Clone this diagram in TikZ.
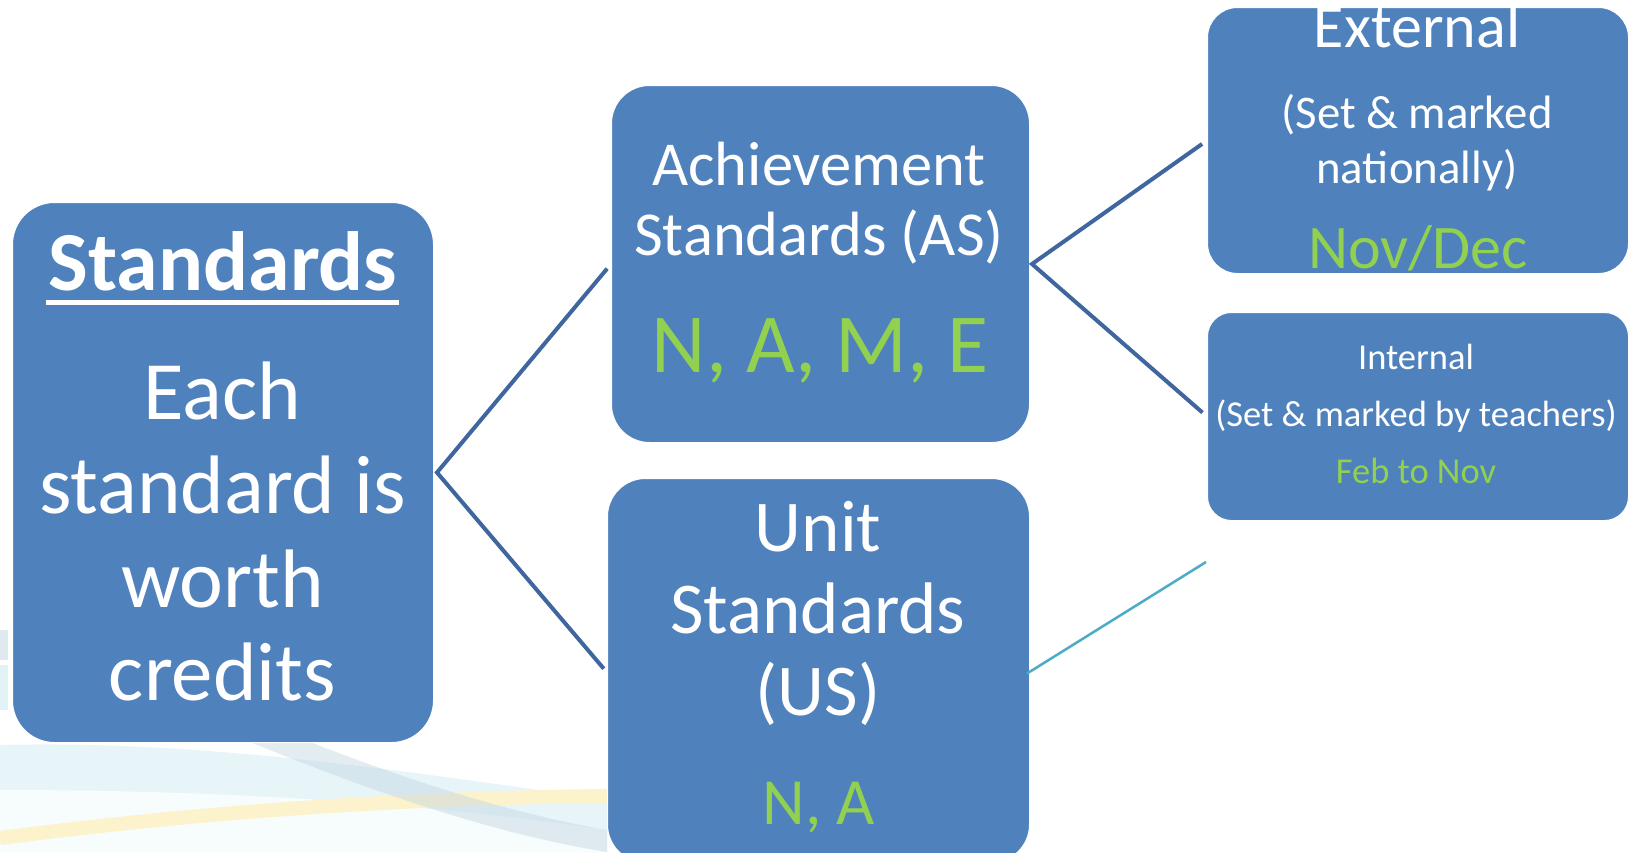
\documentclass[tikz,border=0pt]{standalone}
\usepackage{fontspec}
\setmainfont{Carlito}
\definecolor{boxblue}{HTML}{4F81BD}
\definecolor{linkblue}{HTML}{3F669E}
\definecolor{tealc}{HTML}{4BACC6}
\definecolor{grn}{HTML}{92D050}
\definecolor{swcyan}{HTML}{E2F3F8}
\definecolor{swyellow}{HTML}{FCF3CC}
\definecolor{swgray}{HTML}{C3D5E2}
\begin{document}
\begin{tikzpicture}[x=1pt,y=-1pt,
  box/.style={fill=boxblue, draw=white, line width=1pt, inner sep=0pt, anchor=north west},
  conn/.style={draw=linkblue, line width=4pt, line join=miter},
  txt/.style={text=white, anchor=base, inner sep=0pt},
  gtxt/.style={text=grn, anchor=base, inner sep=0pt},
]
\useasboundingbox (0,0) rectangle (1634,852);
\fill[white] (0,0) rectangle (1634,852);

% faint background swooshes (lower left)
\fill[swcyan, opacity=.8] (0,745) .. controls (200,740) and (400,770) .. (607,800) -- (607,852) -- (0,852) -- cycle;
\fill[white, opacity=.7] (0,790) .. controls (200,790) and (400,800) .. (607,830) -- (607,852) -- (0,852) -- cycle;
\draw[swyellow, line width=14pt] (0,838) .. controls (200,812) and (400,798) .. (607,796);
\fill[swgray, opacity=.45] (250,742) -- (310,742) .. controls (420,785) and (520,815) .. (607,830) -- (607,852) .. controls (500,835) and (380,795) .. (250,742) -- cycle;
\fill[swgray, opacity=.5] (0,630) rectangle (8,660);
\fill[swcyan] (0,665) rectangle (8,710);

% boxes
\node[box, rounded corners=42pt, minimum width=421pt, minimum height=540pt] (std) at (12,202) {};
\node[box, rounded corners=38pt, minimum width=418pt, minimum height=357pt] (as) at (611,85) {};
\node[box, rounded corners=38pt, minimum width=422pt, minimum height=384pt] (us) at (607,478) {};
\node[box, rounded corners=30pt, minimum width=421pt, minimum height=266pt] (ext) at (1207,7) {};
\node[box, rounded corners=24pt, minimum width=421pt, minimum height=208pt] (int) at (1207,312) {};

% connectors
\draw[conn, shorten <=6pt, shorten >=5pt] (as.west) -- ([xshift=3pt]std.east) -- ([yshift=-2pt]us.west);
\draw[conn, shorten <=6pt, shorten >=6pt] (ext.west) -- ([xshift=2pt]as.east) -- (int.west);
\coordinate (tealend) at (1206,562);
\draw[tealc, line width=2.5pt] ([xshift=-3pt,yshift=-3pt]us.east) -- (tealend);

% Standards box text
\node[txt, font=\fontsize{84}{84}\bfseries\selectfont] (t1) at (223,290) {Standards};
\draw[white, line width=5pt] ([xshift=-3pt,yshift=-12.5pt]t1.base west) -- ([xshift=2pt,yshift=-12.5pt]t1.base east);
\node[txt, font=\fontsize{83}{83}\selectfont] (t2) at (222.5,419) {Each};
\node[txt, font=\fontsize{83}{83}\selectfont] (t3) at (222.5,513) {standard is};
\node[txt, font=\fontsize{83}{83}\selectfont] (t4) at (222.5,607) {worth};
\node[txt, font=\fontsize{83}{83}\selectfont] (t5) at (222.5,700) {credits};

% Achievement Standards
\node[txt, font=\fontsize{62.5}{62.5}\selectfont] (a1) at (819,185) {Achievement};
\node[txt, font=\fontsize{62.5}{62.5}\selectfont] (a2) at (819,255) {Standards (AS)};
\node[gtxt, font=\fontsize{84}{84}\selectfont] (a3) at (820,372) {N, A, M, E};

% Unit Standards
\node[txt, font=\fontsize{73}{73}\selectfont] (u1) at (818,551) {Unit};
\node[txt, font=\fontsize{73}{73}\selectfont] (u2) at (818,633) {Standards};
\node[txt, font=\fontsize{73}{73}\selectfont] (u3) at (818,715) {(US)};
\node[gtxt, font=\fontsize{66}{66}\selectfont] (u4) at (819,824) {N, A};

% External
\node[txt, font=\fontsize{62}{62}\selectfont] (e1) at (1417,47) {External};
\node[txt, font=\fontsize{46.8}{46.8}\selectfont] (e2) at (1417,128) {(Set \& marked};
\node[txt, font=\fontsize{46.8}{46.8}\selectfont] (e3) at (1417,183) {nationally)};
\node[gtxt, font=\fontsize{62}{62}\selectfont] (e4) at (1418,268) {Nov/Dec};

% Internal
\node[txt, font=\fontsize{36.5}{36.5}\selectfont] (i1) at (1416,369) {Internal};
\node[txt, font=\fontsize{36.5}{36.5}\selectfont] (i2) at (1416,426) {(Set \& marked by teachers)};
\node[gtxt, font=\fontsize{36.5}{36.5}\selectfont] (i3) at (1416,483) {Feb to Nov};
\end{tikzpicture}
\end{document}
